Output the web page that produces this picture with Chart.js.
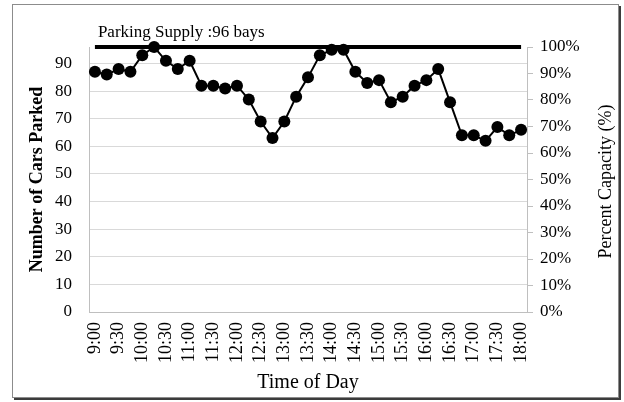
<!DOCTYPE html>
<html>
<head>
<meta charset="utf-8">
<script src="https://cdn.jsdelivr.net/npm/chart.js@4/dist/chart.umd.min.js"></script>
<style>
  html, body { margin: 0; padding: 0; background: #fff; }
  #wrap { position: relative; width: 624px; height: 402px; }
  #frame {
    position: absolute; left: 12px; top: 4px; width: 605px; height: 392px;
    border: 1px solid #8c8c8c; box-shadow: 2px 2px 0 #3c3c3c; pointer-events: none;
  }
</style>
</head>
<body>
<div id="wrap">
  <canvas id="chart" width="624" height="402"></canvas>
  <div id="frame"></div>
</div>
<script>
// Time of day, every 15 minutes
const times = [
    '9:00', '9:15', '9:30', '9:45', '10:00', '10:15', '10:30', '10:45',
    '11:00', '11:15', '11:30', '11:45', '12:00', '12:15', '12:30', '12:45',
    '13:00', '13:15', '13:30', '13:45', '14:00', '14:15', '14:30', '14:45',
    '15:00', '15:15', '15:30', '15:45', '16:00', '16:15', '16:30', '16:45',
    '17:00', '17:15', '17:30', '17:45', '18:00'
];

// Number of cars parked at each survey time
const carsParked = [
    87, 86, 88, 87, 93, 96, 91, 88,
    91, 82, 82, 81, 82, 77, 69, 63,
    69, 78, 85, 93, 95, 95, 87, 83,
    84, 76, 78, 82, 84, 88, 76, 64,
    64, 62, 67, 64, 66
];

const parkingSupply = 96;
const leftTicks = [0, 10, 20, 30, 40, 50, 60, 70, 80, 90];
const rightTicks = [0, 0.1, 0.2, 0.3, 0.4, 0.5, 0.6, 0.7, 0.8, 0.9, 1];

const serif = 'Liberation Serif, Times New Roman, serif';

// Axis titles and the supply label
const textPlugin = {
    id: 'texts',
    afterDraw(chart) {
        const ctx = chart.ctx;
        const area = chart.chartArea;
        const x = chart.scales.x;
        const y = chart.scales.y;
        const midY = (area.top + area.bottom) / 2;
        ctx.save();
        ctx.fillStyle = '#000';

        ctx.font = '17px ' + serif;
        ctx.textAlign = 'left';
        ctx.textBaseline = 'alphabetic';
        ctx.fillText('Parking Supply :' + parkingSupply + ' bays', x.getPixelForValue(0) + 3, y.getPixelForValue(parkingSupply) - 10);

        ctx.font = '20px ' + serif;
        ctx.textAlign = 'center';
        ctx.textBaseline = 'middle';
        ctx.fillText('Time of Day', (area.left + area.right) / 2, 383);

        ctx.save();
        ctx.translate(37, midY);
        ctx.rotate(-Math.PI / 2);
        ctx.font = 'bold 18px ' + serif;
        ctx.fillText('Number of Cars Parked', 0, 0);
        ctx.restore();

        ctx.save();
        ctx.translate(606, midY + 2);
        ctx.rotate(-Math.PI / 2);
        ctx.font = '18px ' + serif;
        ctx.fillText('Percent Capacity (%)', 0, 0);
        ctx.restore();

        ctx.restore();
    }
};

const ctx = document.getElementById('chart').getContext('2d');
new Chart(ctx, {
    type: 'line',
    data: {
        labels: times,
        datasets: [{
            label: 'Cars Parked',
            data: carsParked,
            borderColor: '#000',
            backgroundColor: '#000',
            borderWidth: 2,
            pointRadius: 6,
            pointBorderWidth: 0,
            tension: 0,
            clip: false,
            yAxisID: 'y'
        }, {
            label: 'Parking Supply',
            data: [{ x: times[0], y: parkingSupply }, { x: times[times.length - 1], y: parkingSupply }],
            borderColor: '#000',
            borderWidth: 4,
            pointRadius: 0,
            clip: false,
            yAxisID: 'y'
        }]
    },
    options: {
        responsive: false,
        animation: false,
        layout: {
            padding: { top: 47, left: 0, right: 0, bottom: 0 }
        },
        plugins: {
            legend: { display: false },
            tooltip: { enabled: false }
        },
        scales: {
            x: {
                offset: true,
                grid: { drawOnChartArea: false, drawTicks: false },
                border: { display: true, color: '#bfbfbf', width: 1 },
                ticks: {
                    autoSkip: false,
                    minRotation: 90,
                    maxRotation: 90,
                    padding: 10,
                    color: '#000',
                    font: { family: serif, size: 18 },
                    callback: function(value, index) {
                        return index % 2 === 0 ? times[index] : '';
                    }
                },
                afterFit: function(scale) { scale.height = 90; }
            },
            y: {
                position: 'left',
                min: 0,
                max: parkingSupply,
                afterBuildTicks: function(scale) {
                    scale.ticks = leftTicks.map(v => ({ value: v }));
                },
                grid: { color: '#d9d9d9', lineWidth: 1, drawTicks: false },
                border: { display: true, color: '#bfbfbf', width: 1 },
                ticks: {
                    padding: 17,
                    color: '#000',
                    font: { family: serif, size: 17 }
                },
                afterFit: function(scale) { scale.width = 89; }
            },
            y1: {
                position: 'right',
                min: 0,
                max: 1,
                afterBuildTicks: function(scale) {
                    scale.ticks = rightTicks.map(v => ({ value: v }));
                },
                grid: { drawOnChartArea: false, drawTicks: true, tickLength: 6, color: '#bfbfbf' },
                border: { display: true, color: '#bfbfbf', width: 1 },
                ticks: {
                    padding: 7,
                    color: '#000',
                    font: { family: serif, size: 17 },
                    callback: function(value) {
                        return Math.round(value * 100) + '%';
                    }
                },
                afterFit: function(scale) { scale.width = 97; }
            }
        }
    },
    plugins: [textPlugin]
});
</script>
</body>
</html>
